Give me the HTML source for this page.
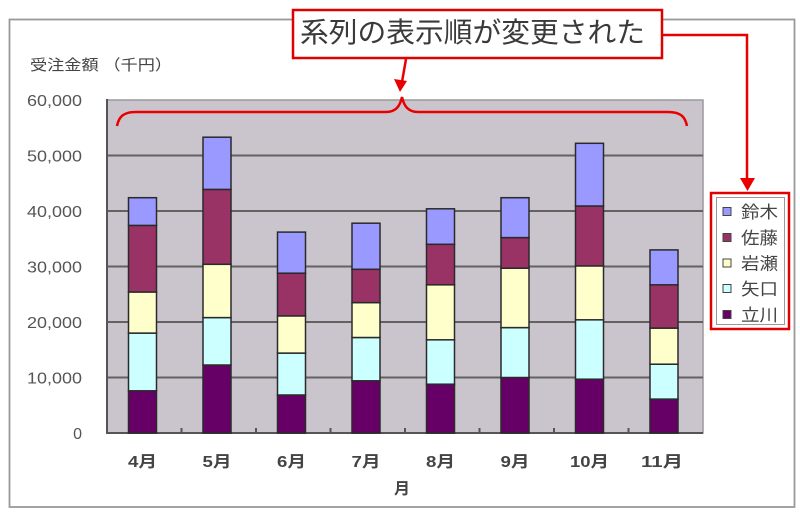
<!DOCTYPE html>
<html><head><meta charset="utf-8"><style>
html,body{margin:0;padding:0;background:#fff;}
svg{display:block;}
text{font-family:"Liberation Sans","Noto Sans CJK JP",sans-serif;}
</style></head><body>
<svg width="800" height="514" viewBox="0 0 800 514" xmlns="http://www.w3.org/2000/svg">
<rect width="800" height="514" fill="#fff"/>
<rect x="9.5" y="19.5" width="785" height="487.5" fill="none" stroke="#999" stroke-width="1.8"/>
<text x="30" y="70" font-size="15" fill="#444" textLength="142" lengthAdjust="spacingAndGlyphs">受注金額 （千円）</text>
<rect x="107" y="100" width="596" height="333" fill="#CAC4CC" stroke="#999" stroke-width="1.5"/>
<g stroke="#626262" stroke-width="2">
<line x1="107" y1="155.5" x2="703" y2="155.5"/>
<line x1="107" y1="211" x2="703" y2="211"/>
<line x1="107" y1="266.5" x2="703" y2="266.5"/>
<line x1="107" y1="322" x2="703" y2="322"/>
<line x1="107" y1="377.5" x2="703" y2="377.5"/>
</g>
<g stroke="#555" stroke-width="2">
<line x1="107" y1="99" x2="107" y2="434"/>
<line x1="106" y1="433" x2="703" y2="433"/>
<line x1="181.5" y1="428" x2="181.5" y2="433"/>
<line x1="256" y1="428" x2="256" y2="433"/>
<line x1="330.5" y1="428" x2="330.5" y2="433"/>
<line x1="405" y1="428" x2="405" y2="433"/>
<line x1="479.5" y1="428" x2="479.5" y2="433"/>
<line x1="554" y1="428" x2="554" y2="433"/>
<line x1="628.5" y1="428" x2="628.5" y2="433"/>
</g>
<g font-size="16" fill="#555" text-anchor="end">
<text x="82" y="106" textLength="55" lengthAdjust="spacingAndGlyphs">60,000</text>
<text x="82" y="161.5" textLength="55" lengthAdjust="spacingAndGlyphs">50,000</text>
<text x="82" y="217" textLength="55" lengthAdjust="spacingAndGlyphs">40,000</text>
<text x="82" y="272.5" textLength="55" lengthAdjust="spacingAndGlyphs">30,000</text>
<text x="82" y="328" textLength="55" lengthAdjust="spacingAndGlyphs">20,000</text>
<text x="82" y="383.5" textLength="55" lengthAdjust="spacingAndGlyphs">10,000</text>
<text x="82" y="439">0</text>
</g>
<g stroke="#2a2a2a" stroke-width="1.5">
<g transform="translate(128.5,0)">
<rect x="0" y="390.8" width="28" height="42.2" fill="#660066"/>
<rect x="0" y="333.1" width="28" height="57.7" fill="#CCFFFF"/>
<rect x="0" y="292" width="28" height="41.1" fill="#FFFFCC"/>
<rect x="0" y="225.4" width="28" height="66.6" fill="#993366"/>
<rect x="0" y="197.7" width="28" height="27.7" fill="#9999FF"/>
</g>
<g transform="translate(203,0)">
<rect x="0" y="365" width="28" height="68" fill="#660066"/>
<rect x="0" y="317.6" width="28" height="47.4" fill="#CCFFFF"/>
<rect x="0" y="264.3" width="28" height="53.3" fill="#FFFFCC"/>
<rect x="0" y="189.4" width="28" height="74.9" fill="#993366"/>
<rect x="0" y="137.2" width="28" height="52.2" fill="#9999FF"/>
</g>
<g transform="translate(277.5,0)">
<rect x="0" y="395" width="28" height="38" fill="#660066"/>
<rect x="0" y="353.1" width="28" height="41.9" fill="#CCFFFF"/>
<rect x="0" y="315.9" width="28" height="37.2" fill="#FFFFCC"/>
<rect x="0" y="273.2" width="28" height="42.7" fill="#993366"/>
<rect x="0" y="232.1" width="28" height="41.1" fill="#9999FF"/>
</g>
<g transform="translate(352,0)">
<rect x="0" y="380.8" width="28" height="52.2" fill="#660066"/>
<rect x="0" y="337.5" width="28" height="43.3" fill="#CCFFFF"/>
<rect x="0" y="302.6" width="28" height="34.9" fill="#FFFFCC"/>
<rect x="0" y="269.3" width="28" height="33.3" fill="#993366"/>
<rect x="0" y="223.2" width="28" height="46.1" fill="#9999FF"/>
</g>
<g transform="translate(426.5,0)">
<rect x="0" y="384.2" width="28" height="48.8" fill="#660066"/>
<rect x="0" y="339.8" width="28" height="44.4" fill="#CCFFFF"/>
<rect x="0" y="284.8" width="28" height="55" fill="#FFFFCC"/>
<rect x="0" y="244.3" width="28" height="40.5" fill="#993366"/>
<rect x="0" y="208.8" width="28" height="35.5" fill="#9999FF"/>
</g>
<g transform="translate(501,0)">
<rect x="0" y="377.5" width="28" height="55.5" fill="#660066"/>
<rect x="0" y="327.6" width="28" height="49.9" fill="#CCFFFF"/>
<rect x="0" y="268.2" width="28" height="59.4" fill="#FFFFCC"/>
<rect x="0" y="237.6" width="28" height="30.6" fill="#993366"/>
<rect x="0" y="197.7" width="28" height="39.9" fill="#9999FF"/>
</g>
<g transform="translate(575.5,0)">
<rect x="0" y="379.2" width="28" height="53.8" fill="#660066"/>
<rect x="0" y="319.8" width="28" height="59.4" fill="#CCFFFF"/>
<rect x="0" y="265.9" width="28" height="53.9" fill="#FFFFCC"/>
<rect x="0" y="206" width="28" height="59.9" fill="#993366"/>
<rect x="0" y="143.3" width="28" height="62.7" fill="#9999FF"/>
</g>
<g transform="translate(650,0)">
<rect x="0" y="399.1" width="28" height="33.9" fill="#660066"/>
<rect x="0" y="364.2" width="28" height="34.9" fill="#CCFFFF"/>
<rect x="0" y="328.1" width="28" height="36.1" fill="#FFFFCC"/>
<rect x="0" y="284.8" width="28" height="43.3" fill="#993366"/>
<rect x="0" y="249.9" width="28" height="34.9" fill="#9999FF"/>
</g>
</g>
<g font-size="16" fill="#444" text-anchor="middle" font-weight="bold">
<text x="142.5" y="467" textLength="29" lengthAdjust="spacingAndGlyphs">4月</text>
<text x="217" y="467" textLength="29" lengthAdjust="spacingAndGlyphs">5月</text>
<text x="291.5" y="467" textLength="29" lengthAdjust="spacingAndGlyphs">6月</text>
<text x="366" y="467" textLength="29" lengthAdjust="spacingAndGlyphs">7月</text>
<text x="440.5" y="467" textLength="29" lengthAdjust="spacingAndGlyphs">8月</text>
<text x="515" y="467" textLength="29" lengthAdjust="spacingAndGlyphs">9月</text>
<text x="589.5" y="467" textLength="39" lengthAdjust="spacingAndGlyphs">10月</text>
<text x="662" y="467" textLength="42" lengthAdjust="spacingAndGlyphs">11月</text>
<text x="402" y="494">月</text>
</g>
<!-- callout -->
<rect x="293" y="10" width="369" height="48" fill="#fff" stroke="#E00000" stroke-width="2.5"/>
<text x="300" y="42" font-size="28" fill="#3a3a3a" textLength="345" lengthAdjust="spacingAndGlyphs">系列の表示順が変更された</text>
<g stroke="#E80000" stroke-width="2.5" fill="none">
<line x1="406" y1="59" x2="402" y2="82"/>
<path d="M117,126 C119,116 124,112 136,112 L386,112 C396,112 400,106 402,97 C404,106 408,112 418,112 L668,112 C680,112 685,116 687,126"/>
<polyline points="663,35 747,35 747,180"/>
</g>
<g fill="#E80000">
<polygon points="394,79 407,81 400,92"/>
<polygon points="740,178 755,178 747.5,191"/>
</g>
<!-- legend -->
<rect x="711" y="193" width="78" height="136" fill="#fff" stroke="#E00000" stroke-width="2.5"/>
<rect x="716.5" y="197.5" width="68" height="127" fill="#fff" stroke="#999" stroke-width="1"/>
<g stroke="#444" stroke-width="1">
<rect x="723" y="207.5" width="8" height="8" fill="#9999FF"/>
<rect x="723" y="233.5" width="8" height="8" fill="#993366"/>
<rect x="723" y="259" width="8" height="8" fill="#FFFFCC"/>
<rect x="723" y="284.5" width="8" height="8" fill="#CCFFFF"/>
<rect x="723" y="310.5" width="8" height="8" fill="#660066"/>
</g>
<g font-size="17" fill="#444">
<text x="741" y="218" textLength="37" lengthAdjust="spacingAndGlyphs">鈴木</text>
<text x="741" y="244" textLength="37" lengthAdjust="spacingAndGlyphs">佐藤</text>
<text x="741" y="269.5" textLength="37" lengthAdjust="spacingAndGlyphs">岩瀬</text>
<text x="741" y="295" textLength="37" lengthAdjust="spacingAndGlyphs">矢口</text>
<text x="741" y="321" textLength="37" lengthAdjust="spacingAndGlyphs">立川</text>
</g>
</svg>
</body></html>
